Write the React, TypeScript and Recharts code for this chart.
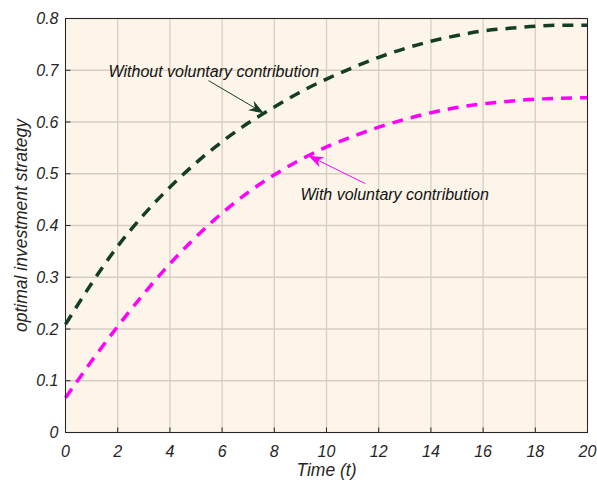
import React from 'react';
import {
  LineChart,
  Line,
  XAxis,
  YAxis,
  CartesianGrid,
  ReferenceLine,
  ReferenceDot,
} from 'recharts';

const times = [0, 1, 2, 3, 4, 5, 6, 7, 8, 9, 10, 11, 12, 13, 14, 15, 16, 17, 18, 19, 20];
const withoutVC = [
  0.209, 0.288, 0.36, 0.421, 0.474, 0.521, 0.562, 0.598, 0.629, 0.658, 0.683,
  0.705, 0.725, 0.742, 0.756, 0.767, 0.776, 0.781, 0.785, 0.787, 0.787,
];
const withVC = [
  0.067, 0.138, 0.205, 0.268, 0.326, 0.378, 0.424, 0.464, 0.498, 0.527, 0.552,
  0.572, 0.59, 0.605, 0.618, 0.628, 0.635, 0.64, 0.644, 0.646, 0.647,
];
const xTicks = [0, 2, 4, 6, 8, 10, 12, 14, 16, 18, 20];
const yTicks = [0, 0.1, 0.2, 0.3, 0.4, 0.5, 0.6, 0.7, 0.8];

// annotation arrows: [tail, tip]
const arrowWithout = [{ x: 5.48, y: 0.68 }, { x: 7.6, y: 0.617 }];
const arrowWith = [{ x: 11.49, y: 0.481 }, { x: 9.31, y: 0.535 }];
const labelWithout = { x: 1.65, y: 0.686, text: 'Without voluntary contribution' };
const labelWith = { x: 9.0, y: 0.45, text: 'With voluntary contribution' };

const data = times.map((t, i) => ({ t, without: withoutVC[i], with: withVC[i] }));

const DARK = '#143d26';
const MAGENTA = '#ff00ff';
const AXIS = '#262626';
const FONT = "'Liberation Sans', Arial, sans-serif";
const tickStyle = { fill: AXIS, fontSize: 16, fontStyle: 'italic' as const, fontFamily: FONT };

function arrowShape(color: string, width: number, headLen: number, headW: number) {
  return (props: any) => {
    const { x1, y1, x2, y2 } = props;
    const dx = x2 - x1;
    const dy = y2 - y1;
    const len = Math.sqrt(dx * dx + dy * dy) || 1;
    const ux = dx / len;
    const uy = dy / len;
    const bx = x2 - ux * headLen;
    const by = y2 - uy * headLen;
    const nx = x2 - ux * headLen * 0.7;
    const ny = y2 - uy * headLen * 0.7;
    const px = (-uy * headW) / 2;
    const py = (ux * headW) / 2;
    return (
      <g>
        <line x1={x1} y1={y1} x2={nx} y2={ny} stroke={color} strokeWidth={width} />
        <polygon
          points={`${x2},${y2} ${bx + px},${by + py} ${nx},${ny} ${bx - px},${by - py}`}
          fill={color}
        />
      </g>
    );
  };
}

function textShape(text: string) {
  return (props: any) => (
    <text x={props.cx} y={props.cy} fill="#111" fontSize={16} fontStyle="italic" fontFamily={FONT}>
      {text}
    </text>
  );
}

export default function App() {
  return (
    <div
      style={{
        position: 'absolute',
        left: 0,
        top: 0,
        width: 597,
        height: 483,
        overflow: 'hidden',
        fontFamily: FONT,
      }}
    >
      <LineChart
        width={597}
        height={483}
        data={data}
        margin={{ top: 17.5, right: 8.5, left: 15.5, bottom: 5.5 }}
      >
        <CartesianGrid
          stroke="#d6cec2"
          strokeWidth={1.3}
          fill="#fdf5e9"
          fillOpacity={1}
          horizontalValues={yTicks}
          verticalValues={xTicks}
        />
        <XAxis
          dataKey="t"
          type="number"
          domain={[0, 20]}
          ticks={xTicks}
          height={45}
          axisLine={{ stroke: AXIS, strokeWidth: 1 }}
          tickLine={{ stroke: AXIS }}
          tick={tickStyle}
          tickSize={-5}
          tickMargin={18}
          label={{
            value: 'Time (t)',
            position: 'insideBottom',
            offset: 2,
            fill: AXIS,
            fontSize: 17.5,
            fontStyle: 'italic',
            fontFamily: FONT,
          }}
        />
        <XAxis
          xAxisId="top"
          orientation="top"
          type="number"
          domain={[0, 20]}
          ticks={xTicks}
          height={1}
          axisLine={{ stroke: AXIS, strokeWidth: 1 }}
          tickLine={{ stroke: AXIS }}
          tick={false}
          tickSize={-5}
        />
        <YAxis
          type="number"
          domain={[0, 0.8]}
          ticks={yTicks}
          width={50}
          axisLine={{ stroke: AXIS, strokeWidth: 1 }}
          tickLine={{ stroke: AXIS }}
          tick={tickStyle}
          tickFormatter={(v: number) => String(Math.round(v * 10) / 10)}
          tickSize={-5}
          tickMargin={12}
          label={{
            value: 'optimal investment strategy',
            angle: -90,
            position: 'insideLeft',
            offset: 5,
            fill: AXIS,
            fontSize: 17.5,
            fontStyle: 'italic',
            fontFamily: FONT,
            style: { textAnchor: 'middle' },
          }}
        />
        <YAxis
          yAxisId="right"
          orientation="right"
          type="number"
          domain={[0, 0.8]}
          ticks={yTicks}
          width={1}
          axisLine={{ stroke: AXIS, strokeWidth: 1 }}
          tickLine={{ stroke: AXIS }}
          tick={false}
          tickSize={-5}
        />
        <ReferenceLine x={0} stroke={AXIS} strokeWidth={1} ifOverflow="visible" />
        <ReferenceLine x={20} stroke={AXIS} strokeWidth={1} ifOverflow="visible" />
        <ReferenceLine y={0} stroke={AXIS} strokeWidth={1} ifOverflow="visible" />
        <ReferenceLine y={0.8} stroke={AXIS} strokeWidth={1} ifOverflow="visible" />
        <Line
          type="monotone"
          dataKey="without"
          stroke={DARK}
          strokeWidth={3.5}
          strokeDasharray="11 8"
          dot={false}
          isAnimationActive={false}
        />
        <Line
          type="monotone"
          dataKey="with"
          stroke={MAGENTA}
          strokeWidth={3.5}
          strokeDasharray="11 8"
          dot={false}
          isAnimationActive={false}
        />
        <ReferenceLine segment={arrowWithout} ifOverflow="visible" shape={arrowShape(DARK, 1, 15, 11)} />
        <ReferenceLine segment={arrowWith} ifOverflow="visible" shape={arrowShape(MAGENTA, 1, 15, 11)} />
        <ReferenceDot
          x={labelWithout.x}
          y={labelWithout.y}
          r={0}
          ifOverflow="visible"
          shape={textShape(labelWithout.text)}
        />
        <ReferenceDot
          x={labelWith.x}
          y={labelWith.y}
          r={0}
          ifOverflow="visible"
          shape={textShape(labelWith.text)}
        />
      </LineChart>
    </div>
  );
}
